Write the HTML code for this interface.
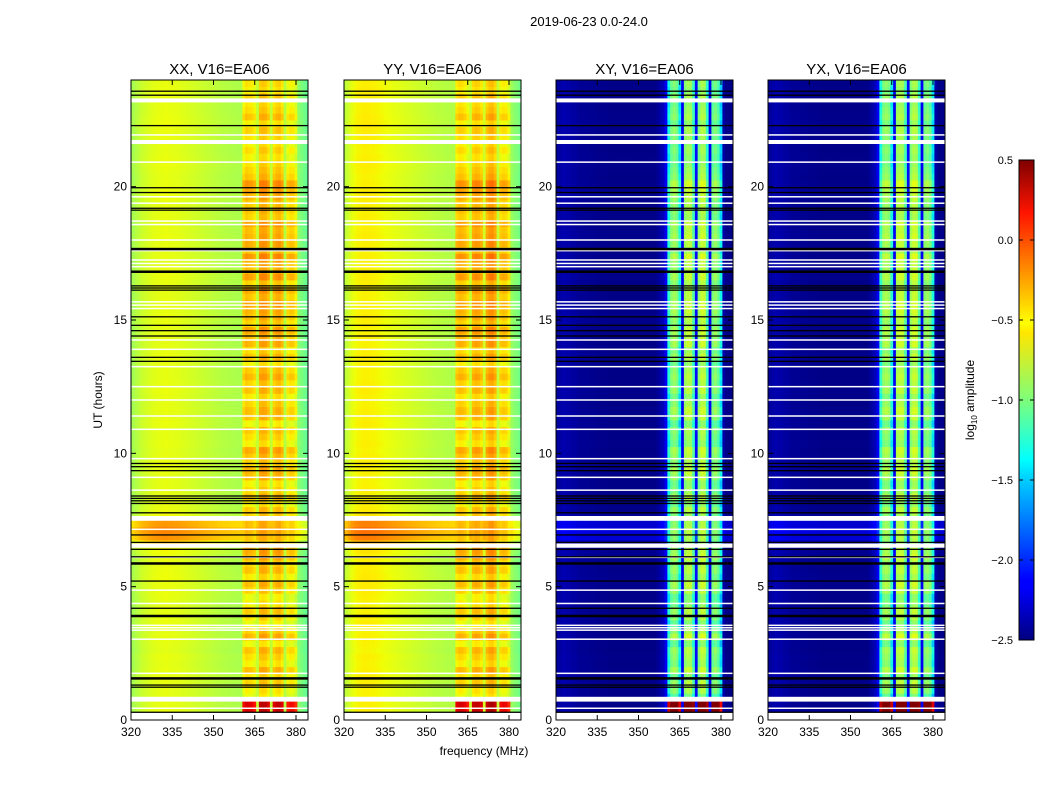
<!DOCTYPE html>
<html><head><meta charset="utf-8">
<style>
body{margin:0;background:#fff;}
svg text{font-family:"Liberation Sans",sans-serif;}
</style></head>
<body>
<svg id="fig" width="1050" height="800" xmlns="http://www.w3.org/2000/svg">
<defs>
<linearGradient id="jet" x1="0" y1="1" x2="0" y2="0">
<stop offset="0" stop-color="#00007f"/><stop offset="0.11" stop-color="#0000ff"/><stop offset="0.125" stop-color="#0000ff"/>
<stop offset="0.34" stop-color="#00d4ff"/><stop offset="0.375" stop-color="#0ff"/><stop offset="0.5" stop-color="#7dff7a"/>
<stop offset="0.64" stop-color="#ffe600"/><stop offset="0.66" stop-color="#ff0"/><stop offset="0.89" stop-color="#ff1400"/><stop offset="1" stop-color="#7f0000"/>
</linearGradient>
</defs>
<text x="589" y="26" font-size="13" text-anchor="middle">2019-06-23 0.0-24.0</text>
<text x="484" y="755" font-size="12" text-anchor="middle">frequency (MHz)</text>
<text transform="translate(102,400) rotate(-90)" font-size="12" text-anchor="middle">UT (hours)</text>
<g id="panels"></g>
<g id="cbar"></g>
</svg>
<script>
// ---- data ----
const panelTitles = ["XX, V16=EA06","YY, V16=EA06","XY, V16=EA06","YX, V16=EA06"];
const xTicks = [320,335,350,365,380];
const yTicks = [0,5,10,15,20];
const cbTicks = [0.5,0.0,-0.5,-1.0,-1.5,-2.0,-2.5];
const cbLabels = ["0.5","0.0","\u22120.5","\u22121.0","\u22121.5","\u22122.0","\u22122.5"];
// channel spectra, 320..384 MHz, 1 MHz channels (log10 amplitude)
const xxChan = [-0.88,-0.84,-0.8,-0.76,-0.72,-0.7,-0.68,-0.66,-0.64,-0.63,
 -0.62,-0.62,-0.61,-0.61,-0.62,-0.62,-0.63,-0.63,-0.64,-0.65,
 -0.66,-0.67,-0.68,-0.69,-0.7,-0.71,-0.72,-0.73,-0.74,-0.75,
 -0.76,-0.77,-0.78,-0.79,-0.8,-0.8,-0.81,-0.82,-0.82,-0.83,
 -0.83,-0.55,-0.48,-0.5,-0.52,-0.58,-0.75,-0.42,-0.4,-0.42,
 -0.5,-0.75,-0.5,-0.44,-0.42,-0.5,-0.8,-0.6,-0.55,-0.56,
 -0.66,-0.95,-1.0,-1.05,-1.1];
const yyChan = [-0.8,-0.74,-0.68,-0.62,-0.58,-0.56,-0.55,-0.54,-0.54,-0.54,
 -0.55,-0.55,-0.56,-0.57,-0.58,-0.59,-0.6,-0.61,-0.62,-0.63,
 -0.64,-0.65,-0.66,-0.67,-0.68,-0.69,-0.7,-0.71,-0.72,-0.73,
 -0.74,-0.75,-0.76,-0.77,-0.78,-0.78,-0.79,-0.8,-0.8,-0.81,
 -0.81,-0.52,-0.47,-0.48,-0.52,-0.6,-0.72,-0.46,-0.42,-0.44,
 -0.5,-0.7,-0.44,-0.37,-0.36,-0.44,-0.75,-0.55,-0.52,-0.54,
 -0.65,-0.9,-0.96,-1.0,-1.05];
const xyChan = [-2.45,-2.42,-2.4,-2.38,-2.4,-2.4,-2.42,-2.42,-2.44,-2.45,
 -2.45,-2.45,-2.46,-2.46,-2.46,-2.47,-2.47,-2.47,-2.47,-2.48,
 -2.48,-2.48,-2.48,-2.48,-2.48,-2.48,-2.48,-2.48,-2.48,-2.48,
 -2.48,-2.48,-2.48,-2.48,-2.48,-2.48,-2.48,-2.45,-2.4,-2.35,
 -2.2,-1.4,-1.05,-0.95,-1.05,-1.45,-2.2,-0.95,-0.85,-0.88,
 -1.25,-2.1,-1.0,-0.82,-0.85,-1.3,-2.2,-1.1,-1.0,-1.15,
 -1.5,-2.4,-2.48,-2.48,-2.48];
const yxChan = [-2.45,-2.42,-2.4,-2.38,-2.4,-2.4,-2.42,-2.42,-2.44,-2.45,
 -2.45,-2.45,-2.46,-2.46,-2.46,-2.47,-2.47,-2.47,-2.47,-2.48,
 -2.48,-2.48,-2.48,-2.48,-2.48,-2.48,-2.48,-2.48,-2.48,-2.48,
 -2.48,-2.48,-2.48,-2.48,-2.48,-2.48,-2.48,-2.45,-2.4,-2.35,
 -2.2,-1.35,-1.0,-0.92,-1.0,-1.4,-2.2,-0.9,-0.82,-0.86,
 -1.2,-2.1,-0.95,-0.8,-0.84,-1.25,-2.2,-1.05,-0.98,-1.1,
 -1.45,-2.4,-2.48,-2.48,-2.48];
const bandChan = [0,0,0,0,0,0,0,0,0,0, 0,0,0,0,0,0,0,0,0,0, 0,0,0,0,0,0,0,0,0,0,
 0,0,0,0,0,0,0,0,0,0, 0,1,1,1,1,1,0,1,1,1, 1,0,1,1,1,1,0,1,1,1, 1,0,0,0,0];
// per-row (0.25 h) offsets, rows 0..95 from 0h
const rowOffset = [0,0.02,0.01,0,0,0.01,0.02,0.01,0,0.01, -0.01,0,0.01,0,0.02,0.01,0,0,0.01,0.02,
 0.02,0.03,0.02,0.01,0.02,0.05,0.2,0.38,0.42,0.36, 0.05,0.02,0.01,0,0.01,0,0,0.01,0.02,0.01,
 0,0.01,0,0,0.02,0.01,0.01,0,0.01,0.02, 0.01,0,0,0.01,0.02,0.01,0,0.01,0,0.01,
 0.02,0.01,0.01,0,0,0.01,0.02,0.01,0,0.01, 0,0.01,0.02,0.01,0,0.01,0,0.01,0.03,0.02,
 0.01,0,0.01,0.02,0.01,0,0.01,0.02,0.02,0.03, 0.02,0.01,0.01,0.02,0.02,0.01];
const bandRow = [0,0.75,0.75,-0.1,-0.05,0.05,0,0.12,-0.05,0.02, 0.1,-0.08,0.15,0.05,-0.1,0,0.08,-0.05,-0.1,0.05,
 0.12,-0.02,0.1,0.05,0.15,0.18,0.05,0.1,0.15,0.12, 0.05,0.08,-0.05,0.1,0.02,-0.05,0.12,0.15,0.05,0.1,
 0.18,-0.05,0.02,0.08,-0.08,0.1,0.12,0.05,-0.02,0.1, 0.05,0.15,0.08,-0.05,0.1,0.02,0.15,0.12,0.2,0.05,
 0.12,0.15,0.2,0.1,0.18,0.05,0.22,0.12,0.15,0.25, 0.1,0.18,0.15,0.12,0.2,0.05,0.1,0.08,0.15,0.2,
 0.25,0.1,0.05,0,-0.05,0.02,-0.05,0,0.05,-0.05, 0.1,0.02,-0.02,0.05,-0.05,0];
const xyBandRow = [0,1.7,1.7,-0.15,0.05,0.1,-0.05,0.15,0,0.05, 0.1,-0.1,0.2,0.05,-0.1,0.05,0.1,-0.05,-0.1,0.1,
 0.15,0,0.1,0.05,0.15,0.1,0,0.05,0.1,0.05, 0,0.1,-0.05,0.1,0,-0.05,0.1,0.15,0.05,0.1,
 0.15,-0.05,0,0.05,-0.1,0.1,0.15,0.05,-0.05,0.1, 0.05,0.1,0.05,-0.05,0.1,0,0.15,0.1,0.15,0.05,
 0.1,0.15,0.15,0.1,0.1,0.05,0.15,0.1,0.1,0.2, 0.05,0.1,0.15,0.1,0.15,0,0.05,0.05,0.1,0.15,
 0.2,0.05,0,-0.05,-0.05,0,-0.05,0,0.05,-0.05, 0.05,0,-0.05,0.05,-0.05,0];
// flagged intervals (hours): thick white, thin white, black lines
const whiteBands = [[0,0.3],[0.69,0.87],[6.46,6.62],[7.47,7.65],[21.6,21.75],[23.16,23.31]];
const whiteLines = [0.44,1.75,3.03,3.37,3.46,3.55,4.37,4.87,6.1,7.15,8.62,9.1,9.8,10.9,11.4,12.0,12.5,13.25,13.9,14.25,
 15.43,15.56,15.68,17.0,17.12,17.25,17.6,18.0,18.58,18.71,19.38,19.62,20.92,21.94];
const blackLines = [0.29,1.23,1.31,1.56,3.9,4.19,5.21,5.87,6.12,6.4,6.66,6.94,7.77,8.12,8.22,8.31,8.4,9.35,9.5,9.62,
 13.45,13.6,14.4,14.6,14.8,15.12,16.12,16.2,16.28,16.81,17.66,19.12,19.19,19.78,19.96,22.29,23.43,23.58];
const thickBlack = [1.56,3.9,5.87,16.81,17.66];

// ---- layout / scales ----
const panelX = [131,344,556,768], pw = 177, pTop = 80, pBot = 720;
const fMin = 320, fMax = 320 + 177/2.75;
function xs(p,f){return panelX[p] + (f-fMin)/(fMax-fMin)*pw;}
function ys(h){return pBot - h/24*(pBot-pTop);}
function interp(t,pts){for(let i=1;i<pts.length;i++){if(t<=pts[i][0]){const a=pts[i-1],b=pts[i];return a[1]+(b[1]-a[1])*(t-a[0])/(b[0]-a[0]);}}return pts[pts.length-1][1];}
const JR=[[0,0],[0.35,0],[0.66,1],[0.89,1],[1,0.5]];
const JG=[[0,0],[0.125,0],[0.375,1],[0.64,1],[0.91,0],[1,0]];
const JB=[[0,0.5],[0.11,1],[0.34,1],[0.65,0],[1,0]];
function jet(v){
  let t=(v+2.5)/3; t=Math.max(0,Math.min(1,t));
  return `rgb(${Math.round(interp(t,JR)*255)},${Math.round(interp(t,JG)*255)},${Math.round(interp(t,JB)*255)})`;
}
const NS="http://www.w3.org/2000/svg";
function mk(tag,attrs,parent){const e=document.createElementNS(NS,tag);for(const k in attrs)e.setAttribute(k,attrs[k]);parent.appendChild(e);return e;}
const root=document.getElementById('panels');
const chans=[xxChan,yyChan,xyChan,yxChan];
const bandRows=[bandRow,bandRow,xyBandRow,xyBandRow];
const offScale=[1,1,0.5,0.5];
for(let p=0;p<4;p++){
  const g=mk('g',{},root);
  
  
  const cp=mk('clipPath',{id:'cp'+p},g);
  mk('rect',{x:panelX[p],y:pTop,width:pw,height:pBot-pTop},cp);
  const cells=mk('g',{'clip-path':'url(#cp'+p+')'},g);
  
  
  const ch=chans[p], br=bandRows[p];
  for(let r=0;r<rowOffset.length;r++){
    const y0=ys((r+1)*0.25), y1=ys(r*0.25);
    for(let c=0;c<ch.length;c++){
      const v = ch[c] + (bandChan[c]? br[r] : rowOffset[r]*offScale[p]);
      const x0=xs(p,fMin+c-0.5), x1=xs(p,fMin+c+0.5);
      const rc=mk('rect',{x:x0.toFixed(2),y:y0.toFixed(2),width:(x1-x0+0.4).toFixed(2),height:(y1-y0+0.4).toFixed(2),fill:jet(v)},cells);
      
      
    }
  }
  const fl=mk('g',{'clip-path':'url(#cp'+p+')'},g);
  
  
  whiteBands.forEach(b=>{mk('rect',{x:panelX[p],y:ys(b[1]),width:pw,height:ys(b[0])-ys(b[1]),fill:'#fff'},fl);});
  whiteLines.forEach(h=>{mk('rect',{x:panelX[p],y:ys(h)-0.75,width:pw,height:1.5,fill:'#fff'},fl);});
  blackLines.forEach(h=>{const th=thickBlack.includes(h)?2.5:1.3;mk('rect',{x:panelX[p],y:ys(h)-th/2,width:pw,height:th,fill:'#000'},fl);});
  const fr=mk('rect',{x:panelX[p],y:pTop,width:pw,height:pBot-pTop,fill:'none',stroke:'#000','stroke-width':1},g);
  
  
  const t=mk('text',{x:panelX[p]+pw/2,y:74,'font-size':15,'text-anchor':'middle'},g);
  t.textContent=panelTitles[p];
  
  
  xTicks.forEach(f=>{
    const x=xs(p,f);
    mk('line',{x1:x,x2:x,y1:pBot,y2:pBot-5,stroke:'#000'},g);
    mk('line',{x1:x,x2:x,y1:pTop,y2:pTop+5,stroke:'#000'},g);
    const tt=mk('text',{x:x,y:pBot+16,'font-size':12,'text-anchor':'middle'},g);
    tt.textContent=f;
    
    
  });
  yTicks.forEach(h=>{
    const y=ys(h);
    mk('line',{x1:panelX[p],x2:panelX[p]+5,y1:y,y2:y,stroke:'#000'},g);
    mk('line',{x1:panelX[p]+pw,x2:panelX[p]+pw-5,y1:y,y2:y,stroke:'#000'},g);
    const tt=mk('text',{x:panelX[p]-4,y:y+4,'font-size':12,'text-anchor':'end'},g);
    tt.textContent=h;
    
    
  });
}
// colorbar
const cb=document.getElementById('cbar');
const cbX=1019,cbW=15,cbT=160,cbB=640;
mk('rect',{x:cbX,y:cbT,width:cbW,height:cbB-cbT,fill:'url(#jet)',stroke:'#000','stroke-width':1},cb);
cbTicks.forEach((v,i)=>{
  const y=cbB-(v+2.5)/3*(cbB-cbT);
  mk('line',{x1:cbX,x2:cbX+4,y1:y,y2:y,stroke:'#000'},cb);
  mk('line',{x1:cbX+cbW,x2:cbX+cbW-4,y1:y,y2:y,stroke:'#000'},cb);
  const tt=mk('text',{x:cbX-6,y:y+4,'font-size':11,'text-anchor':'end'},cb);
  tt.textContent=cbLabels[i];
  
  
});
const cl=mk('text',{transform:'translate(974,400) rotate(-90)','font-size':12,'text-anchor':'middle'},cb);


const t1=mk('tspan',{},cl); t1.textContent='log';
const t2=mk('tspan',{'font-size':8,dy:3},cl); t2.textContent='10';
const t3=mk('tspan',{dy:-3},cl); t3.textContent=' amplitude';
</script>
</body></html>
